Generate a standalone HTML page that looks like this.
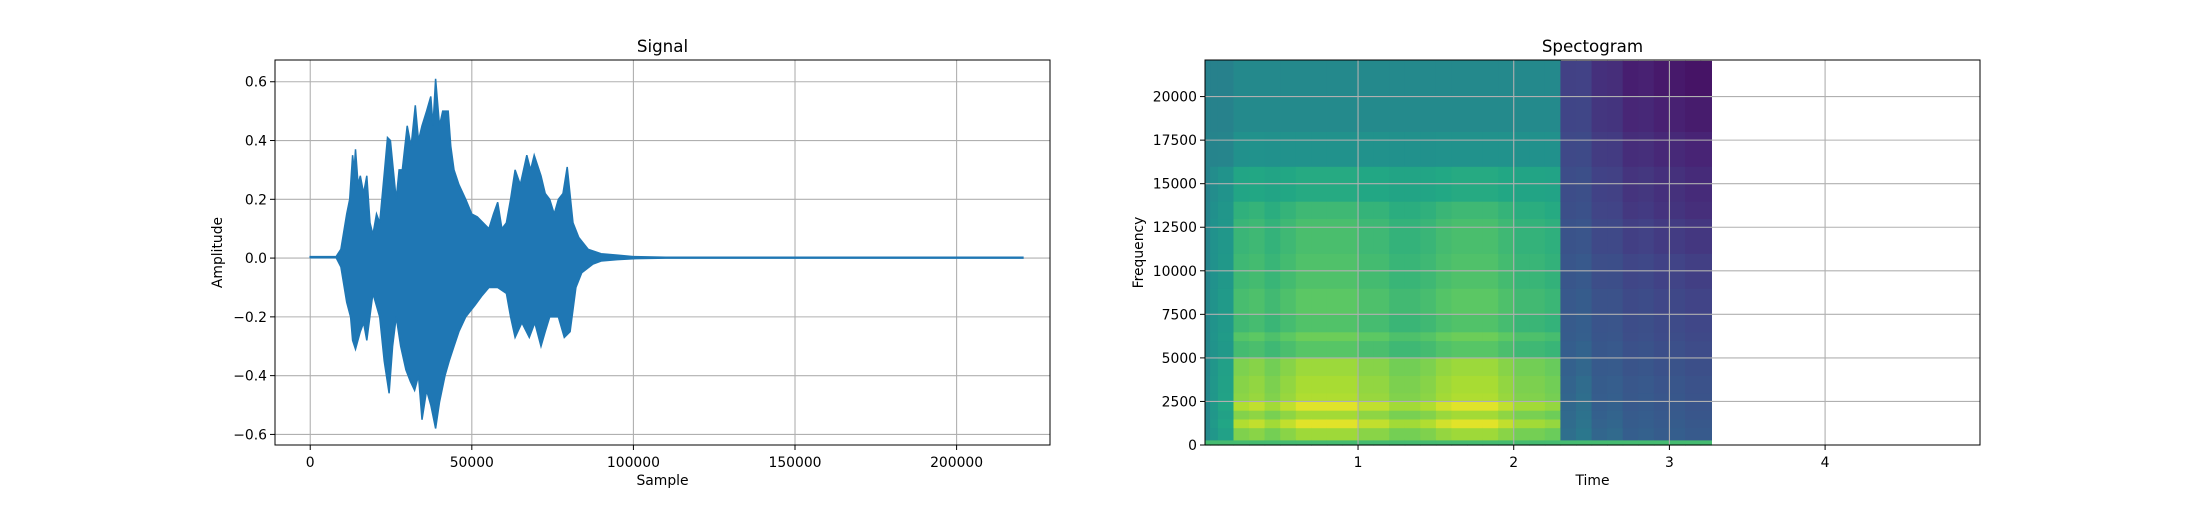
<!DOCTYPE html>
<html><head><meta charset="utf-8"><style>
html,body{margin:0;padding:0;background:#fff;}
svg text{font-family:"DejaVu Sans","Liberation Sans",sans-serif;fill:#000;}
</style></head><body>
<svg id="fig" width="2200" height="500" xmlns="http://www.w3.org/2000/svg">
<rect width="2200" height="500" fill="#fff"/>
<g id="left"></g>
<g id="right"></g>
</svg>
<script>
// ---------- Signal data ----------
const sigUpperX = [0,8000,9500,11300,12200,13100,13600,14000,14800,15500,16500,17500,18500,19400,20500,21500,23000,23900,24800,25700,26600,27500,28500,30000,31200,32500,33500,34600,36000,37300,38000,38800,40000,41000,42700,43500,44500,46000,48100,50000,51700,53500,55300,56700,58000,59300,60700,62000,63400,65000,67000,68200,69300,71400,72700,74100,75500,76800,78200,79500,81300,83100,86000,90000,95000,100000,110000,220500];
const sigUpperY = [0.005,0.005,0.03,0.15,0.2,0.35,0.3,0.37,0.25,0.28,0.22,0.28,0.12,0.08,0.15,0.12,0.3,0.41,0.4,0.3,0.2,0.3,0.3,0.45,0.38,0.52,0.4,0.45,0.5,0.55,0.45,0.61,0.45,0.5,0.5,0.38,0.3,0.25,0.2,0.15,0.14,0.12,0.1,0.15,0.19,0.1,0.12,0.2,0.3,0.25,0.35,0.3,0.35,0.28,0.22,0.2,0.15,0.2,0.22,0.31,0.12,0.07,0.03,0.015,0.01,0.005,0.003,0.003];
const sigLowerX = [0,8000,9500,11300,12500,13100,14000,15500,16500,17500,19400,21500,22900,24400,25500,26600,28000,29600,31000,32300,33500,34600,36000,37300,38800,40000,41700,43000,44500,46000,48100,51000,53000,55300,58000,60700,62000,63400,65500,67800,69500,71400,72700,74100,76800,78600,80400,82200,84000,87500,90000,95000,100000,110000,220500];
const sigLowerY = [0.002,0.002,-0.03,-0.15,-0.2,-0.28,-0.31,-0.25,-0.22,-0.28,-0.12,-0.2,-0.35,-0.46,-0.3,-0.2,-0.3,-0.38,-0.42,-0.45,-0.4,-0.55,-0.45,-0.5,-0.58,-0.49,-0.4,-0.35,-0.3,-0.25,-0.2,-0.16,-0.13,-0.1,-0.1,-0.12,-0.2,-0.27,-0.22,-0.27,-0.22,-0.3,-0.25,-0.2,-0.2,-0.27,-0.25,-0.1,-0.05,-0.02,-0.01,-0.005,-0.002,0,0];
const sigXTicks = [0,50000,100000,150000,200000];
const sigYTicks = [-0.6,-0.4,-0.2,0.0,0.2,0.4,0.6];

// ---------- Spectrogram data ----------
const specTimes = [0,0.05,0.1,0.2,0.3,0.4,0.5,0.6,0.7,0.8,0.9,1.0,1.1,1.2,1.3,1.4,1.5,1.6,1.7,1.8,1.9,2.0,2.1,2.2,2.3,2.4,2.5,2.6,2.7,2.8,2.9,3.0,3.1,3.2];
const colEnergy = [0,0.15,0.3,0.85,0.9,0.8,0.9,1,1,1,1,0.9,0.9,0.8,0.8,0.85,0.95,1,1,1,0.9,0.8,0.8,0.75,0,0,0,0,0,0,0,0,0,0];
const colFloor  = [0.48,0.48,0.48,0.5,0.5,0.5,0.5,0.5,0.5,0.5,0.5,0.5,0.5,0.5,0.5,0.5,0.5,0.5,0.5,0.5,0.5,0.5,0.5,0.5,0.42,0.44,0.4,0.41,0.38,0.39,0.37,0.38,0.36,0.36];
const colTilt   = [0.02,0.02,0.02,0.02,0.02,0.02,0.02,0.02,0.02,0.02,0.02,0.02,0.02,0.02,0.02,0.02,0.02,0.02,0.02,0.02,0.02,0.02,0.02,0.02,0.2,0.22,0.25,0.27,0.3,0.3,0.31,0.32,0.32,0.32];
const bandFreqs = [0,300,1000,1500,2000,2500,3000,4000,5000,6000,6500,7500,9000,11000,13000,14000,16000,18000,20000];
const bandSpeech = [0,0.36,0.46,0.37,0.46,0.39,0.38,0.36,0.24,0.28,0.23,0.25,0.23,0.22,0.2,0.15,0.02,0,0];
const specXTicks = [1,2,3,4];
const specYTicks = [0,2500,5000,7500,10000,12500,15000,17500,20000];

const NS="http://www.w3.org/2000/svg";
function mk(parent,tag,attrs,text){const e=document.createElementNS(NS,tag);for(const k in attrs)e.setAttribute(k,attrs[k]);if(text!==undefined)e.textContent=text;parent.appendChild(e);return e;}

const T=60,B=445;
// ---------- Left chart ----------
const L=document.getElementById('left');
const lx0=275,lx1=1050,xmin=-10900,xmax=228900,ymin=-0.636,ymax=0.674;
const sx=v=>lx0+(v-xmin)/(xmax-xmin)*(lx1-lx0);
const sy=v=>B-(v-ymin)/(ymax-ymin)*(B-T);
sigXTicks.forEach(t=>{const g=mk(L,'line',{x1:sx(t),x2:sx(t),y1:T,y2:B,stroke:'#b0b0b0','stroke-width':1.1});
});
sigYTicks.forEach(t=>{const g=mk(L,'line',{x1:lx0,x2:lx1,y1:sy(t),y2:sy(t),stroke:'#b0b0b0','stroke-width':1.1});
});
let pts=[];
sigUpperX.forEach((x,i)=>pts.push(sx(x).toFixed(1)+','+sy(sigUpperY[i]).toFixed(1)));
for(let i=sigLowerX.length-1;i>=0;i--)pts.push(sx(sigLowerX[i]).toFixed(1)+','+sy(sigLowerY[i]).toFixed(1));
const wave=mk(L,'polygon',{points:pts.join(' '),fill:'#1f77b4',stroke:'#1f77b4','stroke-width':1.5,'stroke-linejoin':'miter'});

mk(L,'line',{x1:sx(0),x2:sx(220500),y1:sy(0.001),y2:sy(0.001),stroke:'#1f77b4','stroke-width':1.5});
const lf=mk(L,'rect',{x:lx0,y:T,width:lx1-lx0,height:B-T,fill:'none',stroke:'#000','stroke-width':1});

sigXTicks.forEach(t=>{mk(L,'line',{x1:sx(t),x2:sx(t),y1:B,y2:B+5,stroke:'#000'});
const e=mk(L,'text',{x:sx(t),y:467,'font-size':13.9,'text-anchor':'middle'},String(t));
});
sigYTicks.forEach(t=>{mk(L,'line',{x1:lx0-5,x2:lx0,y1:sy(t),y2:sy(t),stroke:'#000'});
const e=mk(L,'text',{x:lx0-8,y:sy(t)+5,'font-size':13.9,'text-anchor':'end'},(t<0?'\u22120':'0')+Math.abs(t).toFixed(1).slice(1));
});
let e1=mk(L,'text',{x:662.5,y:52,'font-size':16.7,'text-anchor':'middle'},'Signal');
e1=mk(L,'text',{x:662.5,y:485,'font-size':13.9,'text-anchor':'middle'},'Sample');
e1=mk(L,'text',{x:0,y:0,'font-size':13.9,'text-anchor':'middle',transform:'translate(222,252.5) rotate(-90)'},'Amplitude');

// ---------- Right chart ----------
const R=document.getElementById('right');
const rx0=1205,rx1=1980,tmin=0.017,tmax=4.995,fmin=0,fmax=22100;
const tx=v=>rx0+(v-tmin)/(tmax-tmin)*(rx1-rx0);
const fy=v=>B-(v-fmin)/(fmax-fmin)*(B-T);
const stops=[[0,[68,1,84]],[0.13,[72,36,117]],[0.25,[65,68,135]],[0.38,[53,95,141]],[0.5,[33,145,140]],[0.63,[34,168,132]],[0.75,[94,201,98]],[0.88,[170,220,50]],[1,[253,231,37]]];
function vir(v){v=Math.max(0,Math.min(1,v));for(let i=1;i<stops.length;i++){if(v<=stops[i][0]){const a=stops[i-1],b=stops[i];const k=(v-a[0])/(b[0]-a[0]);const c=a[1].map((q,j)=>Math.round(q+(b[1][j]-q)*k));return 'rgb('+c.join(',')+')';}}return 'rgb(253,231,37)';}
const specEnd=3.27,specTop=22050;
specTimes.forEach((t,i)=>{
  const t1=i<specTimes.length-1?specTimes[i+1]:specEnd;
  const top=(t<2.3)?fmax:specTop;
  const tl=Math.max(t,tmin);
  bandFreqs.forEach((f,j)=>{
    const f1=j<bandFreqs.length-1?bandFreqs[j+1]:top;
    let v;
    if(j===0) v=0.7;
    else v=colFloor[i]-colTilt[i]*(f/fmax)+colEnergy[i]*bandSpeech[j];
    const r=mk(R,'rect',{x:tx(tl).toFixed(1),y:fy(f1).toFixed(1),width:Math.max(0,tx(t1)-tx(tl)+0.6).toFixed(1),height:(fy(f)-fy(f1)+0.6).toFixed(1),fill:vir(v)});
    
    
  });
});
specXTicks.forEach(t=>{const g=mk(R,'line',{x1:tx(t),x2:tx(t),y1:T,y2:B,stroke:'#b0b0b0','stroke-width':1.1});
});
specYTicks.forEach(t=>{const g=mk(R,'line',{x1:rx0,x2:rx1,y1:fy(t),y2:fy(t),stroke:'#b0b0b0','stroke-width':1.1});
});
const rf=mk(R,'rect',{x:rx0,y:T,width:rx1-rx0,height:B-T,fill:'none',stroke:'#000','stroke-width':1});

specXTicks.forEach(t=>{mk(R,'line',{x1:tx(t),x2:tx(t),y1:B,y2:B+5,stroke:'#000'});
const e=mk(R,'text',{x:tx(t),y:467,'font-size':13.9,'text-anchor':'middle'},String(t));
});
specYTicks.forEach(t=>{mk(R,'line',{x1:rx0-5,x2:rx0,y1:fy(t),y2:fy(t),stroke:'#000'});
const e=mk(R,'text',{x:rx0-8,y:fy(t)+5,'font-size':13.9,'text-anchor':'end'},String(t));
});
e1=mk(R,'text',{x:1592.5,y:52,'font-size':16.7,'text-anchor':'middle'},'Spectogram');
e1=mk(R,'text',{x:1592.5,y:485,'font-size':13.9,'text-anchor':'middle'},'Time');
e1=mk(R,'text',{x:0,y:0,'font-size':13.9,'text-anchor':'middle',transform:'translate(1143,252.5) rotate(-90)'},'Frequency');
</script>
</body></html>
